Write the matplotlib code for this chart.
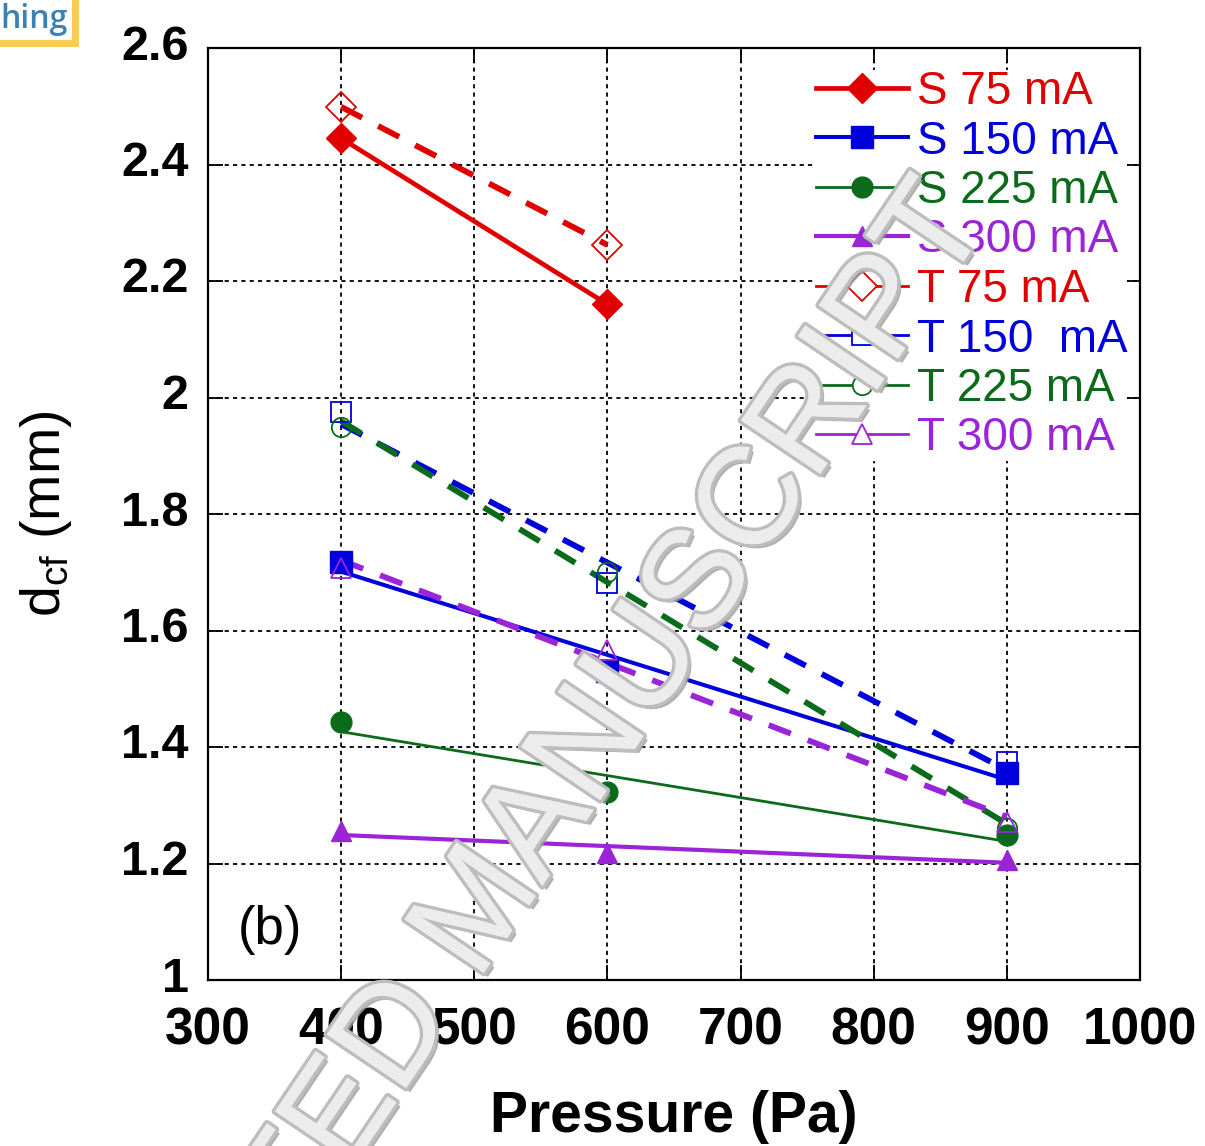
import numpy as np
import matplotlib.pyplot as plt
import matplotlib.patheffects as pe
import matplotlib.transforms as mtransforms
from matplotlib.lines import Line2D

plt.rcParams['font.family'] = ['Liberation Sans', 'DejaVu Sans']
plt.rcParams['mathtext.fontset'] = 'custom'
plt.rcParams['mathtext.rm'] = 'Liberation Sans'
plt.rcParams['mathtext.it'] = 'Liberation Sans'
plt.rcParams['lines.scale_dashes'] = False

# data
pressure = [400, 600, 900]
s_vals = [[2.445, 2.160],
          [1.718, 1.530, 1.355],
          [1.443, 1.323, 1.249],
          [1.256, 1.218, 1.206]]
t_vals = [[2.499, 2.262],
          [1.975, 1.682, 1.374],
          [1.949, 1.700, 1.261],
          [1.707, 1.567, 1.271]]
s_labels = ['S 75 mA', 'S 150 mA', 'S 225 mA', 'S 300 mA']
t_labels = ['T 75 mA', 'T 150  mA', 'T 225 mA', 'T 300 mA']
yticks = [1, 1.2, 1.4, 1.6, 1.8, 2, 2.2, 2.4, 2.6]
ytick_labels = ['1', '1.2', '1.4', '1.6', '1.8', '2', '2.2', '2.4', '2.6']

colors = ['#e00000', '#0000dd', '#0b6b1b', '#9b25d6']
markers = ['D', 's', 'o', '^']
s_msize = [15, 16, 15, 15]
t_msize = [15, 14, 14, 15]
s_lw = [3.4, 2.9, 2.0, 3.0]

fig = plt.figure(figsize=(12.05, 11.46), dpi=100)
ax = fig.add_axes([208/1205, 1 - 980/1146, (1140-208)/1205, (980-48)/1146])

for i in range(4):
    c = colors[i]
    # solid: S series, line is a linear fit over the measured range
    xs = np.array(pressure[:len(s_vals[i])])
    k, b = np.polyfit(xs, s_vals[i], 1)
    ax.plot([xs[0], xs[-1]], [k*xs[0]+b, k*xs[-1]+b], color=c, lw=s_lw[i],
            solid_capstyle='butt', zorder=3)
    ax.plot(xs, s_vals[i], ls='none', marker=markers[i], ms=s_msize[i],
            color=c, mec=c, zorder=4)
    # dashed: T series
    xt = np.array(pressure[:len(t_vals[i])])
    k, b = np.polyfit(xt, t_vals[i], 1)
    ax.plot([xt[0], xt[-1]], [k*xt[0]+b, k*xt[-1]+b], color=c, lw=4.2,
            dashes=(17, 13), dash_capstyle='butt', zorder=3)
    ax.plot(xt, t_vals[i], ls='none', marker=markers[i], ms=t_msize[i],
            mfc='none', mec=c, mew=1.3, zorder=4)

handles = []
for i in range(4):
    handles.append(Line2D([], [], color=colors[i], lw=s_lw[i], marker=markers[i],
                          ms=s_msize[i], label=s_labels[i]))
for i in range(4):
    handles.append(Line2D([], [], color=colors[i], lw=2.0, marker=markers[i],
                          ms=t_msize[i], mfc='white', mec=colors[i], mew=1.3,
                          label=t_labels[i]))

leg = ax.legend(handles=handles, loc='upper left',
                bbox_to_anchor=(816/1205, 1 - 70/1146), bbox_transform=fig.transFigure,
                frameon=True, fancybox=False, framealpha=1, facecolor='white',
                edgecolor='none', fontsize=33, handlelength=2.0, handletextpad=0.2,
                labelspacing=0.12, borderpad=0.0, borderaxespad=0, numpoints=1,
                labelcolor='linecolor')
leg.set_zorder(5)

ax.set_xlim(300, 1000)
ax.set_ylim(1, 2.6)
ax.set_xticks(np.arange(300, 1001, 100))
ax.set_yticks(yticks)
ax.set_yticklabels(ytick_labels)
ax.grid(True, color='black', lw=1.3, linestyle=(0, (3, 3)))
ax.set_axisbelow(True)
for sp in ax.spines.values():
    sp.set_linewidth(1.6)
ax.tick_params(direction='in', length=11, width=1.3, top=True, right=True)
ax.tick_params(axis='y', labelsize=35, pad=14)
ax.tick_params(axis='x', labelsize=37, pad=19)
up = mtransforms.ScaledTranslation(0, 0.06, fig.dpi_scale_trans)
for t in ax.get_yticklabels():
    t.set_fontweight('bold')
    t.set_transform(t.get_transform() + up)
for t in ax.get_xticklabels():
    t.set_fontweight('bold')

ax.set_xlabel('Pressure (Pa)', fontsize=41, fontweight='bold', labelpad=25)
ax.set_ylabel(r'd$_{\mathregular{cf}}$ (mm)', fontsize=40, labelpad=34)

ax.text(322, 1.085, '(b)', fontsize=38, va='center', ha='left')

# corner tag and watermark present in the source image
fig.text(0.0, 1 - 19/1146, 'hing', fontsize=23, fontweight='semibold',
         family=['Open Sans', 'Liberation Sans'], color='#3d80b5',
         ha='left', va='center',
         bbox=dict(facecolor='white', edgecolor='#f9cd4f', lw=5, pad=5))
fig.text(0.40, 0.205, 'ACCEPTED MANUSCRIPT', fontsize=100, rotation=56,
         ha='center', va='center', color='#ececec', zorder=10,
         path_effects=[pe.withSimplePatchShadow(offset=(3, -3), shadow_rgbFace='#9c9c9c', alpha=0.8),
                       pe.withStroke(linewidth=5, foreground='#bdbdbd'), pe.Normal()])

fig.savefig('out.png', dpi=100)
